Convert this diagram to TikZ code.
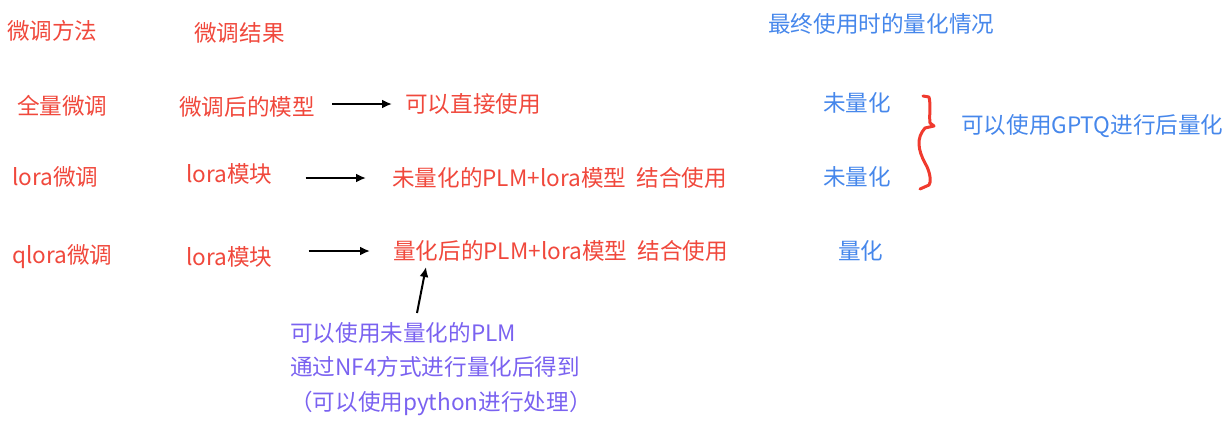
\documentclass[tikz,border=0pt]{standalone}
\usepackage{fontspec}
\setmainfont{Noto Sans CJK SC}
\usetikzlibrary{arrows.meta}
\definecolor{tred}{RGB}{240,72,60}
\definecolor{tblue}{RGB}{70,135,235}
\definecolor{tpurple}{RGB}{122,98,240}
\definecolor{bred}{RGB}{240,58,46}
\tikzset{
  lbl/.style={anchor=west, inner sep=0pt, font=\fontsize{22.6bp}{34.5bp}\selectfont},
  rt/.style={lbl, text=tred},
  bt/.style={lbl, text=tblue},
  pt/.style={lbl, text=tpurple, align=left},
  arr/.style={draw=black, line width=2bp, -{Latex[length=10bp,width=9bp]}},
  bracepath/.style={draw=bred, line width=3bp, line cap=round, line join=round}
}
\begin{document}
\begin{tikzpicture}[x=1bp,y=-1bp]
\useasboundingbox (0,0) rectangle (1230,425);
% headers
\node[rt] (h1) at (7,31) {微调方法};
\node[rt] (h2) at (194,33) {微调结果};
\node[bt] (h3) at (768,24) {最终使用时的量化情况};
% row 1
\node[rt] (m1) at (17,106) {全量微调};
\node[rt] (o1) at (179,107) {微调后的模型};
\node[rt] (r1) at (405,104) {可以直接使用};
\node[bt] (q1) at (823,103) {未量化};
% row 2
\node[rt] (m2) at (12,177) {lora微调};
\node[rt] (o2) at (186,174) {lora模块};
\node[rt] (r2) at (392,178) {未量化的PLM+lora模型\hspace{0.45em}结合使用};
\node[bt] (q2) at (823,177) {未量化};
% row 3
\node[rt] (m3) at (12,257) {qlora微调};
\node[rt] (o3) at (186,257) {lora模块};
\node[rt] (r3) at (393,251) {量化后的PLM+lora模型\hspace{0.45em}结合使用};
\node[bt] (q3) at (838,251) {量化};
% GPTQ note
\node[bt] (g) at (961,126) {可以使用GPTQ进行后量化};
% purple note
\node[pt, anchor=north west] (note) at (290,322) {可以使用未量化的PLM\\通过NF4方式进行量化后得到\\（可以使用python进行处理）};
% arrows
\draw[arr, shorten <=17bp, shorten >=13bp] (o1.east |- r1.west) -- (r1.west);
\draw[arr, shorten <=33bp, shorten >=26bp] (o2.east |- r2.west) -- (r2.west);
\draw[arr, shorten <=36bp, shorten >=23bp] (o3.east |- r3.west) -- (r3.west);
\coordinate (upS) at (417,313);
\coordinate (upE) at (426,267);
\draw[arr] (upS) -- (upE);
% brace
\draw[bracepath] (923,96) -- (929,97) .. controls (931,105) and (929,115) .. (930,123) -- (934,126) -- (925,128)
  .. controls (916,138) and (918,150) .. (925,163) .. controls (931,173) and (931,183) .. (929,185) -- (920,189);
\end{tikzpicture}
\end{document}
